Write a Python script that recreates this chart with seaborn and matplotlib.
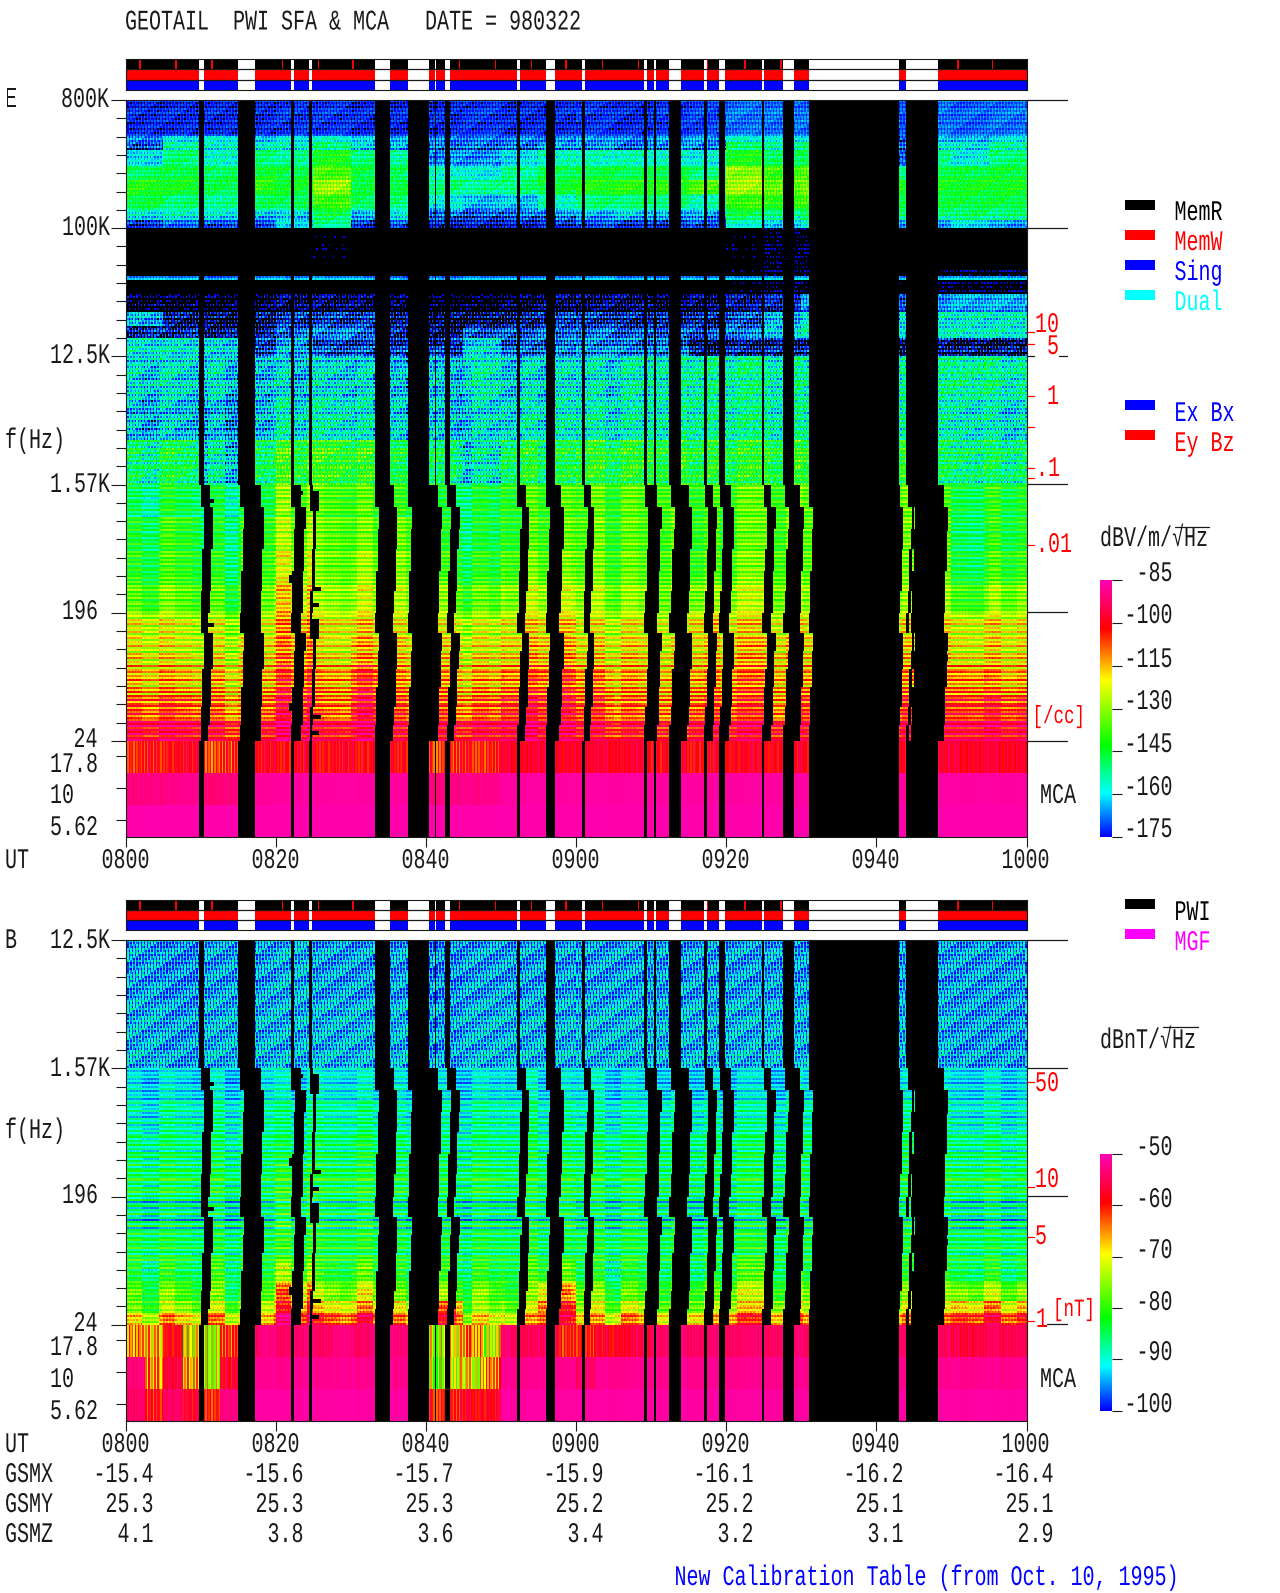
import numpy as np
import matplotlib
matplotlib.use("Agg")
import matplotlib.pyplot as plt
import matplotlib.patheffects as pe
from matplotlib.colors import LinearSegmentedColormap, ListedColormap
from matplotlib.transforms import Affine2D
import seaborn as sns

# ------------------ data ------------------
# block values: one column per 5 min from 0800 (or 2.5 min for the B MCA rows)
e_edges = [800e3, 453e3, 398e3, 355e3, 278e3, 218e3, 171e3, 134e3, 114e3, 100e3,
           52.2e3, 46.6e3, 43e3, 33.7e3, 25.5e3, 20.6e3, 16.7e3, 12.5e3,
           6.3e3, 3.2e3, 1570, 933, 555, 330, 196, 133, 84, 52, 35, 24]
e_table = [
    [-173,-173,-173,-173,-172,-172,-173,-173,-173,-172,-173,-173,-172,-173,-172,-171,-168,-168,-168,-170,-170,-168,-169,-168],
    [-165,-158,-156,-160,-157,-155,-160,-163,-165,-166,-165,-165,-163,-165,-163,-163,-155,-157,-158,-170,-170,-160,-162,-158],
    [-172,-155,-158,-158,-158,-152,-162,-165,-170,-170,-170,-166,-167,-170,-168,-168,-150,-155,-152,-170,-170,-158,-160,-155],
    [-160,-150,-156,-150,-152,-142,-150,-152,-166,-166,-160,-155,-155,-155,-156,-158,-142,-148,-146,-170,-170,-152,-158,-150],
    [-148,-146,-148,-144,-146,-136,-146,-148,-156,-158,-152,-147,-146,-147,-146,-150,-130,-138,-136,-150,-150,-146,-146,-145],
    [-141,-143,-147,-140,-144,-129,-146,-146,-150,-152,-150,-145,-141,-140,-140,-136,-128,-134,-131,-143,-143,-143,-143,-143],
    [-146,-150,-152,-148,-148,-138,-148,-150,-158,-163,-162,-155,-150,-150,-150,-154,-138,-140,-138,-146,-146,-146,-146,-146],
    [-160,-158,-160,-163,-162,-148,-165,-160,-170,-172,-170,-168,-165,-163,-165,-166,-148,-153,-148,-152,-152,-152,-150,-152],
    [-172,-168,-170,-170,-160,-152,-172,-170,-174,-174,-174,-172,-170,-172,-172,-170,-156,-162,-158,-165,-165,-165,-160,-165],
    [-190,-190,-190,-190,-188,-182,-188,-190,-190,-190,-190,-190,-190,-190,-190,-186,-182,-180,-180,-186,-186,-184,-184,-184],
    [-190,-190,-190,-190,-190,-188,-190,-190,-190,-190,-190,-190,-190,-190,-188,-186,-182,-180,-180,-182,-182,-180,-180,-180],
    [-164,-164,-166,-164,-164,-163,-164,-166,-166,-164,-165,-165,-163,-165,-165,-164,-163,-162,-162,-164,-164,-162,-162,-162],
    [-190,-190,-190,-190,-188,-188,-190,-190,-190,-188,-188,-188,-188,-188,-188,-186,-182,-180,-180,-182,-182,-180,-180,-180],
    [-181,-181,-181,-180,-178,-178,-179,-180,-182,-182,-180,-178,-178,-178,-180,-178,-176,-174,-166,-170,-170,-166,-164,-164],
    [-164,-178,-180,-178,-174,-174,-174,-178,-180,-180,-178,-174,-174,-176,-176,-176,-172,-164,-158,-160,-160,-158,-158,-158],
    [-174,-174,-176,-176,-168,-166,-168,-174,-178,-170,-170,-168,-168,-170,-170,-170,-166,-160,-154,-158,-158,-156,-156,-156],
    [-158,-158,-160,-172,-164,-172,-172,-174,-174,-160,-170,-168,-166,-168,-168,-178,-176,-176,-176,-178,-178,-176,-178,-178],
    [-159,-159,-160,-162,-160,-159,-160,-162,-162,-157,-160,-158,-158,-156,-154,-152,-152,-154,-154,-154,-154,-154,-152,-154],
    [-162,-162,-164,-162,-156,-156,-158,-160,-162,-160,-158,-156,-156,-156,-154,-152,-152,-154,-154,-154,-154,-156,-156,-158],
    [-150,-148,-158,-148,-140,-140,-142,-146,-150,-158,-146,-146,-143,-143,-143,-143,-143,-143,-143,-143,-143,-150,-150,-150],
    [-150,-147,-150,-145,-133,-137,-138,-140,-146,-148,-140,-136,-137,-137,-136,-138,-136,-136,-136,-136,-136,-140,-146,-143],
    [-145,-142,-148,-140,-130,-135,-136,-134,-144,-148,-140,-135,-136,-137,-137,-138,-136,-136,-136,-136,-136,-138,-148,-143],
    [-143,-141,-146,-138,-126,-134,-132,-132,-140,-145,-136,-133,-135,-136,-136,-137,-134,-134,-136,-136,-136,-136,-146,-140],
    [-137,-136,-140,-133,-120,-130,-128,-128,-132,-138,-130,-126,-130,-132,-132,-130,-128,-130,-132,-132,-132,-132,-138,-132],
    [-124,-126,-128,-124,-114,-122,-120,-122,-124,-128,-122,-118,-124,-124,-124,-118,-120,-122,-122,-122,-122,-122,-124,-122],
    [-122,-124,-125,-120,-112,-122,-116,-118,-120,-124,-118,-114,-120,-120,-122,-118,-116,-118,-120,-120,-120,-120,-122,-120],
    [-116,-117,-118,-115,-106,-114,-106,-112,-114,-117,-110,-106,-112,-115,-116,-112,-110,-113,-114,-114,-114,-114,-112,-114],
    [-108,-108,-112,-108,-100,-110,-100,-106,-108,-110,-102,-100,-106,-110,-110,-106,-106,-110,-106,-106,-106,-106,-104,-104],
    [ -98, -98,-102,-100, -94,-100, -96,-100,-100,-100, -96, -96,-100,-102,-102, -98, -98,-100,-100,-100,-100,-100, -98, -98],
]
e_row_amp = [3,5,6,5,4,4,5,6,4,3,3,4,3,5,7,7,7,8,8,9,9,9,9,9,11,12,13,13,11]
e_col_amp = [4,6,7,6,6,6,6,7,5,3,3,4,3,6,8,8,8,9,9,9,2,2,2,2,2,2,2,2,2]
e_coarse_amp = [0,0,0,0,0,0,0,0,0,0,0,0,0,0,0,0,0,3,3,4,5,5,5,5,4,4,4,4,3]
e_mca = [
    [-103,-100,-106,-100,-100,-100,-100,-100,-105,-103,-98,-98,-98,-98,-100,-100,-99,-99,-99,-99,-99,-98,-98,-98],
    [-90,-89,-91,-88,-87,-87,-87,-87,-90,-89,-87,-87,-87,-87,-87,-87,-87,-87,-87,-87,-87,-87,-87,-87],
    [-86,-86,-86,-86,-86,-86,-86,-86,-86,-86,-86,-86,-86,-86,-86,-86,-86,-86,-86,-86,-86,-86,-86,-86],
]

b_edges = [12.5e3, 4.7e3, 1570, 934, 555, 330, 196, 113, 69, 48, 36, 30, 24]
b_table = [
    [-94,-95,-94,-94,-93,-94,-94,-94,-95,-94,-94,-94,-94,-94,-94,-94,-94,-94,-94,-94,-94,-94,-94,-94],
    [-93,-94,-93,-93,-93,-93,-93,-93,-94,-93,-93,-93,-93,-93,-93,-93,-93,-93,-93,-93,-93,-93,-94,-94],
    [-92,-92,-92,-91,-91,-91,-91,-91,-92,-92,-91,-91,-91,-92,-92,-92,-92,-92,-92,-92,-92,-92,-92,-92],
    [-90,-89,-89,-88,-88,-88,-88,-89,-89,-89,-88,-88,-89,-89,-89,-89,-89,-89,-89,-89,-89,-89,-90,-90],
    [-87,-87,-87,-86,-86,-86,-85,-86,-87,-87,-86,-86,-86,-86,-86,-86,-86,-86,-86,-86,-86,-87,-87,-87],
    [-85,-85,-85,-85,-83,-84,-84,-84,-85,-85,-85,-84,-85,-85,-85,-85,-85,-85,-85,-85,-85,-85,-85,-85],
    [-88,-88,-88,-87,-84,-86,-86,-87,-87,-88,-87,-85,-87,-87,-87,-88,-87,-87,-87,-87,-87,-87,-88,-88],
    [-84,-85,-85,-84,-82,-83,-83,-84,-84,-85,-84,-84,-84,-84,-84,-85,-83,-84,-84,-84,-84,-86,-85,-85],
    [-84,-84,-83,-82,-76,-82,-80,-82,-82,-84,-82,-78,-84,-84,-84,-84,-80,-82,-84,-84,-84,-84,-84,-84],
    [-80,-80,-81,-78,-66,-76,-74,-78,-76,-80,-80,-66,-78,-80,-80,-78,-74,-78,-78,-78,-78,-78,-76,-76],
    [-78,-76,-76,-72,-62,-70,-68,-70,-64,-78,-76,-60,-74,-74,-76,-74,-70,-72,-74,-74,-74,-74,-68,-68],
    [-70,-68,-68,-66,-56,-62,-60,-64,-60,-72,-70,-58,-68,-66,-68,-66,-62,-64,-66,-66,-66,-66,-60,-60],
]
b_row_amp = [3,3,4,5,6,7,9,7,6,4,4,4]
b_col_amp = [6,6,1,1,1,1,1,1,2,2,2,2]
b_coarse_amp = [0,0,2,2,2,2,2,2,4,5,5,5]
b_mca = [
    [-64,-68,-58,-72,-72,-62,-55,-53,-54,-54,-54,-53,-54,-53,-53,-55,-72,-70,-64,-72,-54,-55,-55,-60,
     -60,-58,-57,-56,-54,-54,-54,-54,-54,-54,-54,-54,-54,-54,-54,-54,-54,-54,-58,-55,-56,-56,-55,-55],
    [-53,-66,-56,-68,-72,-58,-52,-52,-52,-52,-52,-52,-52,-52,-52,-52,-74,-72,-70,-64,-52,-52,-52,-52,
     -54,-52,-52,-52,-52,-52,-52,-52,-52,-52,-52,-52,-52,-52,-52,-52,-52,-52,-52,-52,-52,-52,-52,-52],
    [-54,-60,-54,-58,-60,-53,-51,-51,-51,-51,-51,-51,-51,-51,-51,-51,-60,-60,-58,-58,-51,-51,-51,-51,
     -51,-51,-51,-51,-51,-51,-51,-51,-51,-51,-51,-51,-51,-51,-51,-51,-51,-51,-51,-51,-51,-51,-51,-51],
]

# striation seen in the spectrogram, as hand typed repeating lists
row_tex = [0.9,-0.6,0.2,-1.0,0.7,-0.2,1.0,-0.8,0.4,-0.4,0.8,-0.9,0.1,0.6,-0.7,0.3,-0.3]
col_tex = [0.5,-0.8,1.0,-0.3,0.2,-1.0,0.7,-0.5,0.9,-0.1,-0.7,0.4,-0.9]
coarse_tex = [0.4,-0.7,0.9,0.1,-0.5,1.0,-0.9,0.3,-0.2,0.7,-1.0,0.6,0.0,-0.4,0.8,-0.6,0.2,-0.8,0.5]

# data gaps in minutes after 0800
gap_start = [9.9,15.2,22.0,24.5,33.2,37.6,41.2,42.8,52.2,56.0,60.9,69.1,70.4,72.5,77.1,79.1,84.85,87.7,91.0,104.1,104.6]
gap_end   = [10.4,17.1,22.4,24.7,35.1,40.4,41.4,43.2,52.6,57.2,61.2,69.4,70.6,73.9,77.4,79.7,85.0,88.9,102.9,104.3,108.1]
gap_extra = [0.5,0.6,0.8,0.0,0.4,0.7,0.0,0.5,0.5,0.5,0.5,1.0,0.0,0.8,0.6,0.6,0.8,0.7,0.0,0.0,0.7]

# SFA sweep drift: frequency band edges and the time shift in each band
sweep_edges = [1570, 1080, 768, 546, 388, 276, 196, 139, 104, 78, 58, 43, 32, 24]
sweep_shift = [0.15, 0.7, 0.58, 0.46, 0.34, 0.22, 0.1, 0.7, 0.58, 0.46, 0.34, 0.22, 0.1]

# lost SFA steps: t0, t1, f high, f low
block_t0 = [11.2,10.6,10.6,10.9,22.5,24.6,24.6,25.0,24.9,21.9,21.9,25.0,24.9,108.8,108.8,108.8,108.8]
block_t1 = [11.9,11.7,11.7,11.9,23.6,25.8,25.8,26.0,25.9,23.0,23.0,26.0,25.9,109.7,109.7,109.7,109.7]
block_fh = [1251,980,122,167,1424,1424,178,299,231,364,45.5,37,29,1050,790,130,99]
block_fl = [1150,794,99,156,1335,1029,129,281,216,320,40,35,27,980,730,122,90]

memw_times = [1.9,6.7,11.4,20.9,25.6,30.3,44.5,49.3,54,58.7,63.4,68.3,77.6,82.4,87.2,110.8,115.5]

hour_labels = ["0800","0820","0840","0900","0920","0940","1000"]
gsmx = ["-15.4","-15.6","-15.7","-15.9","-16.1","-16.2","-16.4"]
gsmy = ["25.3","25.3","25.3","25.2","25.2","25.1","25.1"]
gsmz = ["4.1","3.8","3.6","3.4","3.2","3.1","2.9"]

# ------------------ helpers ------------------
W, H = 1280, 1593
DT = 0.2          # minutes per column
RPU = 64          # heatmap rows per factor of 8 in frequency
N_T = int(120 / DT)

sns.set_theme(style="white")
plt.rcParams["font.family"] = ["Liberation Mono", "DejaVu Sans Mono"]

colors = [(0.0, "#0000ff"), (0.17, "#00ffff"), (0.36, "#00ff00"), (0.61, "#ffff00"),
          (0.69, "#ff9900"), (0.81, "#ff0000"), (1.0, "#ff00b4")]
rainbow = LinearSegmentedColormap.from_list("pwi", colors)


class Tall(pe.AbstractPathEffect):
    # the plot font is a tall narrow bitmap one, so stretch glyphs upward
    def __init__(self, sy=1.42):
        super().__init__()
        self.sy = sy

    def draw_path(self, renderer, gc, tpath, affine, rgbFace=None):
        renderer.draw_path(gc, tpath, Affine2D().scale(1, self.sy) + affine, rgbFace)


def expand(values):
    idx = (np.arange(N_T) * DT / (120 / len(values))).astype(int)
    return np.array(values, dtype=float)[idx]


def build_panel(top_hz, n_sfa, edges, table, row_amp, col_amp, coarse_amp, mca, floor, ceiling):
    nrows = n_sfa + 48
    out = np.full((nrows, N_T), np.nan)
    edges = np.array(edges)
    steps = np.arange(N_T)
    coarse = np.array(coarse_tex)[(steps // 11) % len(coarse_tex)]
    for r in range(n_sfa):
        f = top_hz * 8 ** (-(r + 0.5) / RPU)
        band = max(min(np.searchsorted(-edges, -f) - 1, len(table) - 1), 0)
        rt = row_tex[r % len(row_tex)]
        # the fine striation leans with frequency, as in the reference
        cols = np.array(col_tex)[(steps + 2 * r) % len(col_tex)]
        out[r] = expand(table[band]) + row_amp[band] * rt + col_amp[band] * cols + coarse_amp[band] * coarse
        # lost steps and the drifting gaps of the sweep receiver
        shift, extra_on = 0.0, False
        if f < sweep_edges[0]:
            extra_on = True
            i = min(np.searchsorted(-np.array(sweep_edges), -f) - 1, len(sweep_shift) - 1)
            shift = sweep_shift[i]
        for s, e, x in zip(gap_start, gap_end, gap_extra):
            a, b = s + shift, e + shift + (x if extra_on else 0)
            out[r, int(a / DT):int(np.ceil(b / DT))] = np.nan
        for t0, t1, fh, fl in zip(block_t0, block_t1, block_fh, block_fl):
            if fl <= f <= fh:
                out[r, int(t0 / DT):int(t1 / DT)] = np.nan
    cols = np.array(col_tex)[steps % len(col_tex)]
    for i, vals in enumerate(mca):
        base = expand(vals)
        line = base + 0.4 * (ceiling - base) * cols
        for s, e in zip(gap_start, gap_end):
            line[int(s / DT):int(np.ceil(e / DT))] = np.nan
        out[n_sfa + 16 * i:n_sfa + 16 * (i + 1)] = line
    out[out < floor] = np.nan
    return out


def px_axes(x0, y0, x1, y1):
    return fig.add_axes([x0 / W, 1 - y1 / H, (x1 - x0) / W, (y1 - y0) / H])


def draw_strip(y0, y1):
    ax = px_axes(125.5, y0, 1026.5, y1)
    m = np.ones((3, N_T))
    m[1] = 2
    m[2] = 3
    for t in memw_times:
        m[0, int(t / DT):int(t / DT) + 1] = 2
    for s, e in zip(gap_start, gap_end):
        m[:, int(s / DT):int(np.ceil(e / DT))] = 0
    sns.heatmap(m, ax=ax, cmap=ListedColormap(["white", "black", "red", "blue"]), vmin=0, vmax=3,
                cbar=False, xticklabels=False, yticklabels=False)
    ax.axhline(1, color="k", lw=0.9)
    ax.axhline(2, color="k", lw=0.9)
    for sp in ax.spines.values():
        sp.set_visible(True)
        sp.set_color("k")
        sp.set_linewidth(0.8)


def draw_panel(y0, y1, data, vmin, vmax, cax_box, cb_ticks, major_rows, mca_ticks):
    ax = px_axes(125.5, y0, 1026.5, y1)
    ax.set_facecolor("black")
    cax = px_axes(*cax_box)
    sns.heatmap(data, ax=ax, cmap=rainbow, vmin=vmin, vmax=vmax, cbar=True, cbar_ax=cax,
                xticklabels=False, yticklabels=False)
    ax.set_facecolor("black")
    for sp in ax.spines.values():
        sp.set_visible(True)
        sp.set_color("k")
        sp.set_linewidth(0.8)
    n_sfa = data.shape[0] - 48
    minors = [r for r in np.arange(0, n_sfa, RPU / 7) if r > 0] + mca_ticks
    ax.set_yticks(major_rows)
    ax.set_yticks(minors, minor=True)
    ax.set_yticklabels([])
    ax.set_xticks(np.arange(0, 121, 20) / DT)
    ax.set_xticklabels([])
    ax.tick_params(axis="y", which="major", left=True, length=10.8, width=0.8, color="k")
    ax.tick_params(axis="y", which="minor", left=True, length=7.2, width=0.8, color="k")
    ax.tick_params(axis="x", bottom=True, length=7.2, width=0.8, color="k")
    cax.set_yticks(cb_ticks)
    cax.set_yticklabels([])
    cax.tick_params(axis="y", right=True, length=7.2, width=0.8, color="k")
    return ax


# ------------------ figure ------------------
e_data = build_panel(800e3, 5 * RPU, e_edges, e_table, e_row_amp, e_col_amp, e_coarse_amp, e_mca, -177, -85)
b_data = build_panel(12.5e3, 3 * RPU, b_edges, b_table, b_row_amp, b_col_amp, b_coarse_amp, b_mca, -104, -50)

fig = plt.figure(figsize=(W / 100, H / 100), dpi=100, facecolor="white")

draw_strip(59, 90)
draw_strip(899.5, 930)
draw_panel(100, 837, e_data, -175, -85, (1100, 580, 1111.5, 837),
           [-175, -160, -145, -130, -115, -100, -85],
           [i * RPU for i in range(6)], [327.5, 343.5, 359.5])
draw_panel(940, 1421, b_data, -100, -50, (1100, 1154, 1111.5, 1410.5),
           [-100, -90, -80, -70, -60, -50],
           [i * RPU for i in range(4)], [199.5, 215.5, 231.5])

# overlay in pixel coordinates for the labels
top = fig.add_axes([0, 0, 1, 1], zorder=10)
top.set_xlim(0, W)
top.set_ylim(H, 0)
top.axis("off")
top.patch.set_alpha(0)
tall = [Tall()]


def txt(x, y, s, color="k", ha="left", size=14.4):
    top.text(x, y, s, color=color, ha=ha, va="baseline", fontsize=size, path_effects=tall)


txt(125, 29.5, "GEOTAIL  PWI SFA & MCA   DATE = 980322")

for x, y, s in [(5, 107, "E"), (61, 107, "800K"), (62, 235, "100K"), (50, 363, "12.5K"),
                (50, 492, "1.57K"), (62, 619, "196"), (73.5, 747, "24"), (50, 772, "17.8"),
                (50, 803, "10"), (50, 835, "5.62"), (5, 868, "UT"), (5, 448, "f(Hz)"),
                (5, 948, "B"), (50, 948, "12.5K"), (50, 1076, "1.57K"), (62, 1203, "196"),
                (73.5, 1331, "24"), (50, 1355, "17.8"), (50, 1387, "10"), (50, 1419, "5.62"),
                (5, 1452, "UT"), (5, 1138, "f(Hz)"),
                (5, 1482, "GSMX"), (5, 1512, "GSMY"), (5, 1542, "GSMZ"),
                (1040, 803, "MCA"), (1040, 1387, "MCA")]:
    txt(x, y, s)

for i, lab in enumerate(hour_labels):
    cx = 125.5 + 150 * i
    txt(cx, 868, lab, ha="center")
    txt(cx, 1452, lab, ha="center")
    txt(cx + 28, 1482, gsmx[i], ha="right")
    txt(cx + 28, 1512, gsmy[i], ha="right")
    txt(cx + 28, 1542, gsmz[i], ha="right")

# right hand black ticks
for y in [100, 228, 484, 612, 741, 940, 1068, 1196]:
    top.plot([1026.5, 1066.5], [y, y], color="k", lw=0.9)
top.plot([1026.5, 1034], [356, 356], color="k", lw=0.9)
top.plot([1059, 1066.5], [356, 356], color="k", lw=0.9)
top.plot([1047, 1066.5], [1324, 1324], color="k", lw=0.9)

# density scale in red
for y in [332, 344, 396, 427, 468, 478, 545, 1082, 1187, 1237, 1321]:
    top.plot([1026.5, 1034], [y, y], color="red", lw=0.9)
for x, y, s in [(1035, 332, "10"), (1047, 354, "5"), (1047, 404, "1"), (1036, 476, ".1"),
                (1036, 552, ".01"), (1035, 1091, "50"), (1035, 1187, "10"),
                (1035, 1244, "5"), (1036, 1327, "1")]:
    txt(x, y, s, color="red")
txt(1032.5, 723, "[/cc]", color="red", size=12.6)
txt(1053, 1316, "[nT]", color="red", size=12.6)

# colorbar labels and units
for y, s in zip([581, 623, 667, 709, 752, 795, 837], ["-85", "-100", "-115", "-130", "-145", "-160", "-175"]):
    txt(1172.5, y, s, ha="right")
for y, s in zip([1155, 1207, 1258, 1310, 1360, 1412], ["-50", "-60", "-70", "-80", "-90", "-100"]):
    txt(1172.5, y, s, ha="right")
txt(1100, 546, "dBV/m/√Hz")
top.plot([1175, 1209], [527, 527], color="k", lw=0.9)
txt(1100, 1048, "dBnT/√Hz")
top.plot([1163, 1198], [1027, 1027], color="k", lw=0.9)

# legends
legend_rows = [(200, 220, "MemR", "black"), (230, 250, "MemW", "red"), (260, 280, "Sing", "blue"),
               (290, 310, "Dual", "cyan"), (400, 421, "Ex Bx", "blue"), (430, 451, "Ey Bz", "red"),
               (899, 920, "PWI", "black"), (929, 950, "MGF", "magenta")]
for y_sw, y_txt, s, c in legend_rows:
    top.fill_between([1125, 1155], y_sw, y_sw + 10, color=c, lw=0)
    txt(1174.5, y_txt, s, color=c)

txt(674.5, 1585, "New Calibration Table (from Oct. 10, 1995)", color="blue")

fig.savefig("out.png", dpi=100)
